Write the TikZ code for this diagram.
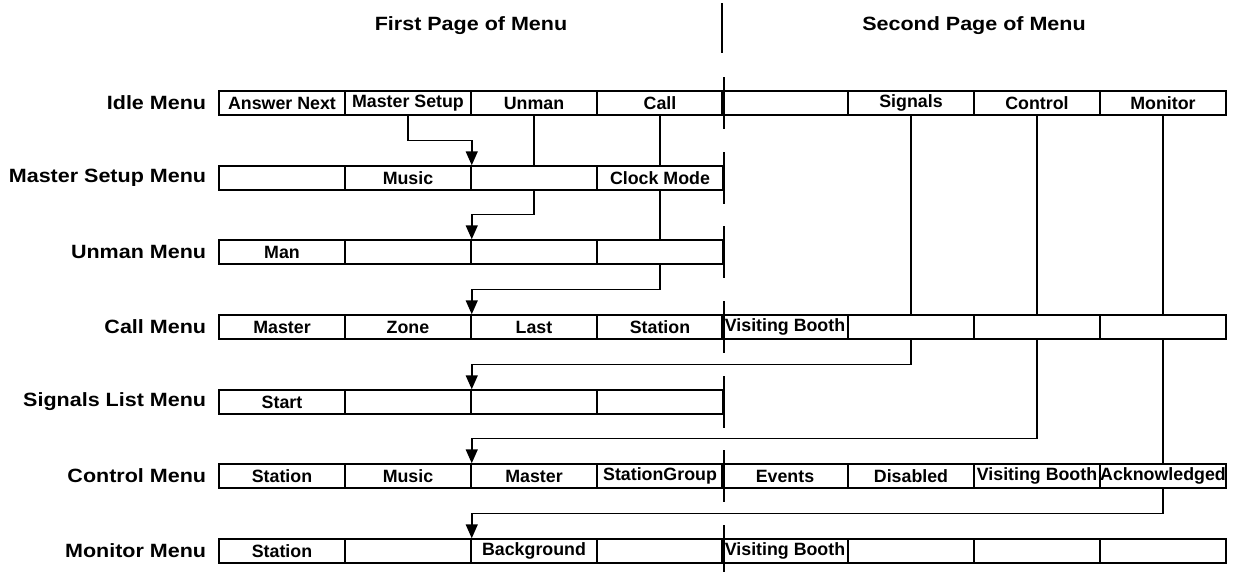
\documentclass[tikz,border=0pt]{standalone}
\usepackage{fontspec}
\setmainfont{Liberation Sans}
\newfontfamily\labelfont[FakeStretch=1.12]{Liberation Sans}
\usetikzlibrary{positioning,arrows.meta,backgrounds}
\tikzset{
  cell/.style={draw, fill=white, line width=1.5pt, minimum width=126pt,
    minimum height=24pt, inner sep=0pt, font=\fontsize{17.8}{20}\selectfont\bfseries},
  menulabel/.style={font=\labelfont\fontsize{19.2}{22}\selectfont\bfseries, inner sep=0pt},
  link/.style={line width=1.5pt, -{Triangle[length=14pt,width=12pt]}},
  pagebreak/.style={line width=1.5pt}
}
\begin{document}
\begin{tikzpicture}[x=1pt,y=-1pt]
      \useasboundingbox (0,0) rectangle (1233,571);
      % page headings
      \node[menulabel] (firstpage) at (471,26) {First Page of Menu};
      \node[menulabel] (secondpage) at (974,26) {Second Page of Menu};
      % menu rows
      \node[cell] (idle1) at (282,103) {Answer Next};
      \node[cell] (idle2) at (408,103) {Master Setup};
      \node[cell] (idle3) at (534,103) {Unman};
      \node[cell] (idle4) at (660,103) {Call};
      \node[cell] (idle5) at (785,103) {};
      \node[cell] (idle6) at (911,103) {Signals};
      \node[cell] (idle7) at (1037,103) {Control};
      \node[cell] (idle8) at (1163,103) {Monitor};

      \node[cell] (setup1) at (282,178) {};
      \node[cell] (setup2) at (408,178) {Music};
      \node[cell] (setup3) at (534,178) {};
      \node[cell] (setup4) at (660,178) {Clock Mode};

      \node[cell] (unman1) at (282,252) {Man};
      \node[cell] (unman2) at (408,252) {};
      \node[cell] (unman3) at (534,252) {};
      \node[cell] (unman4) at (660,252) {};

      \node[cell] (call1) at (282,327) {Master};
      \node[cell] (call2) at (408,327) {Zone};
      \node[cell] (call3) at (534,327) {Last};
      \node[cell] (call4) at (660,327) {Station};
      \node[cell] (call5) at (785,327) {Visiting Booth};
      \node[cell] (call6) at (911,327) {};
      \node[cell] (call7) at (1037,327) {};
      \node[cell] (call8) at (1163,327) {};

      \node[cell] (signals1) at (282,402) {Start};
      \node[cell] (signals2) at (408,402) {};
      \node[cell] (signals3) at (534,402) {};
      \node[cell] (signals4) at (660,402) {};

      \node[cell] (control1) at (282,476) {Station};
      \node[cell] (control2) at (408,476) {Music};
      \node[cell] (control3) at (534,476) {Master};
      \node[cell] (control4) at (660,476) {StationGroup};
      \node[cell] (control5) at (785,476) {Events};
      \node[cell] (control6) at (911,476) {Disabled};
      \node[cell] (control7) at (1037,476) {Visiting Booth};
      \node[cell] (control8) at (1163,476) {Acknowledged};

      \node[cell] (monitor1) at (282,551) {Station};
      \node[cell] (monitor2) at (408,551) {};
      \node[cell] (monitor3) at (534,551) {Background};
      \node[cell] (monitor4) at (660,551) {};
      \node[cell] (monitor5) at (785,551) {Visiting Booth};
      \node[cell] (monitor6) at (911,551) {};
      \node[cell] (monitor7) at (1037,551) {};
      \node[cell] (monitor8) at (1163,551) {};
      % row names
      \node[menulabel, left=12pt of idle1] (idlemenu) {Idle Menu};
      \node[menulabel, left=12pt of setup1] (setupmenu) {Master Setup Menu};
      \node[menulabel, left=12pt of unman1] (unmanmenu) {Unman Menu};
      \node[menulabel, left=12pt of call1] (callmenu) {Call Menu};
      \node[menulabel, left=12pt of signals1] (signalsmenu) {Signals List Menu};
      \node[menulabel, left=12pt of control1] (controlmenu) {Control Menu};
      \node[menulabel, left=12pt of monitor1] (monitormenu) {Monitor Menu};
      % links between menus, behind the rows
      \begin{scope}[on background layer]
        \draw[link] (idle2.south) |- ([yshift=25pt]setup2.north east) -- (setup2.north east);
        \draw[link] (idle3.south) |- ([yshift=25pt]unman2.north east) -- (unman2.north east);
        \draw[link] (idle4.south) |- ([yshift=25pt]call2.north east) -- (call2.north east);
        \draw[link] (idle6.south) |- ([yshift=25pt]signals2.north east) -- (signals2.north east);
        \draw[link] (idle7.south) |- ([yshift=25pt]control2.north east) -- (control2.north east);
        \draw[link] (idle8.south) |- ([yshift=25pt]monitor2.north east) -- (monitor2.north east);
      \end{scope}
      % page break marks
      \coordinate (pagetop) at (722,3);
      \draw[pagebreak] (pagetop) -- ++(0,50);
      \draw[pagebreak] ([yshift=13pt]idle4.north east) -- ([yshift=-13pt]idle4.south east);
      \draw[pagebreak] ([yshift=13pt]setup4.north east) -- ([yshift=-13pt]setup4.south east);
      \draw[pagebreak] ([yshift=13pt]unman4.north east) -- ([yshift=-13pt]unman4.south east);
      \draw[pagebreak] ([yshift=13pt]call4.north east) -- ([yshift=-13pt]call4.south east);
      \draw[pagebreak] ([yshift=13pt]signals4.north east) -- ([yshift=-13pt]signals4.south east);
      \draw[pagebreak] ([yshift=13pt]control4.north east) -- ([yshift=-13pt]control4.south east);
      \draw[pagebreak] ([yshift=13pt]monitor4.north east) -- ([yshift=-13pt]monitor4.south east);
    \end{tikzpicture}
\end{document}
